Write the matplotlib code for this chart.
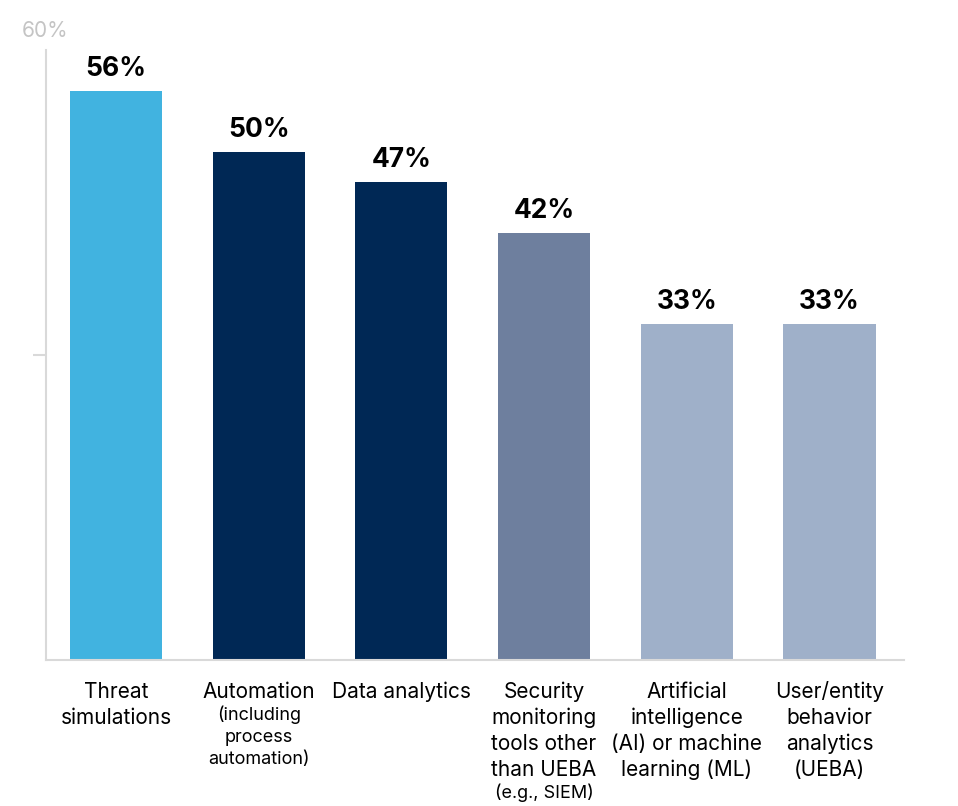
import matplotlib
matplotlib.use("Agg")
import matplotlib.pyplot as plt

categories = ["Threat simulations", "Automation (including process automation)",
              "Data analytics", "Security monitoring tools other than UEBA (e.g., SIEM)",
              "Artificial intelligence (AI) or machine learning (ML)",
              "User/entity behavior analytics (UEBA)"]
values = [56, 50, 47, 42, 33, 33]
value_labels = ["56%", "50%", "47%", "42%", "33%", "33%"]
main_lines = [["Threat", "simulations"],
              ["Automation"],
              ["Data analytics"],
              ["Security", "monitoring", "tools other", "than UEBA"],
              ["Artificial", "intelligence", "(AI) or machine", "learning (ML)"],
              ["User/entity", "behavior", "analytics", "(UEBA)"]]
sub_lines = [[], ["(including", "process", "automation)"], [], ["(e.g., SIEM)"], [], []]
colors = ["#41B3E0", "#002855", "#002855", "#6E7F9E", "#9FB0C9", "#9FB0C9"]
y_max = 60
y_ticks = [30, 60]
y_top_label = "60%"

FONT = "Inter"
plt.rcParams["font.family"] = [FONT, "DejaVu Sans"]

fig = plt.figure(figsize=(9.58, 8.06), dpi=100)
W, H = 958, 806
ax = fig.add_axes([45.5 / W, 1 - 660 / H, (904 - 45.5) / W, (660 - 50) / H])

x = list(range(len(values)))
ax.bar(x, values, width=0.645, color=colors, zorder=2)
ax.set_xlim(-0.494, 5.522)
ax.set_ylim(0, y_max)

for s in ["top", "right"]:
    ax.spines[s].set_visible(False)
for s in ["left", "bottom"]:
    ax.spines[s].set_color("#d9d9d9")
    ax.spines[s].set_linewidth(1.5)

ax.set_yticks([y_ticks[0]])
ax.set_yticklabels([""])
ax.tick_params(axis="y", length=9.5, width=1.5, color="#d9d9d9")
ax.set_xticks([])

# top y label
ax.annotate(y_top_label, xy=(0, y_ticks[1]), xycoords=("axes fraction", "data"),
            xytext=(0, 13), textcoords="offset pixels", ha="center", va="baseline",
            fontsize=15, color="#c4c4c4")

for xi, v, lab in zip(x, values, value_labels):
    ax.annotate(lab, xy=(xi, v), xytext=(0, 15), textcoords="offset pixels",
                ha="center", va="baseline", fontsize=19, fontweight="bold", color="black")

for xi, mains, subs in zip(x, main_lines, sub_lines):
    off = -38
    for ln in mains:
        ax.annotate(ln, xy=(xi, 0), xytext=(0, off), textcoords="offset pixels",
                    ha="center", va="baseline", fontsize=15, color="black",
                    annotation_clip=False)
        off -= 26
    off += 26 - 22
    for ln in subs:
        ax.annotate(ln, xy=(xi, 0), xytext=(0, off), textcoords="offset pixels",
                    ha="center", va="baseline", fontsize=13, color="black",
                    annotation_clip=False)
        off -= 22

fig.savefig("out.png", dpi=100)
